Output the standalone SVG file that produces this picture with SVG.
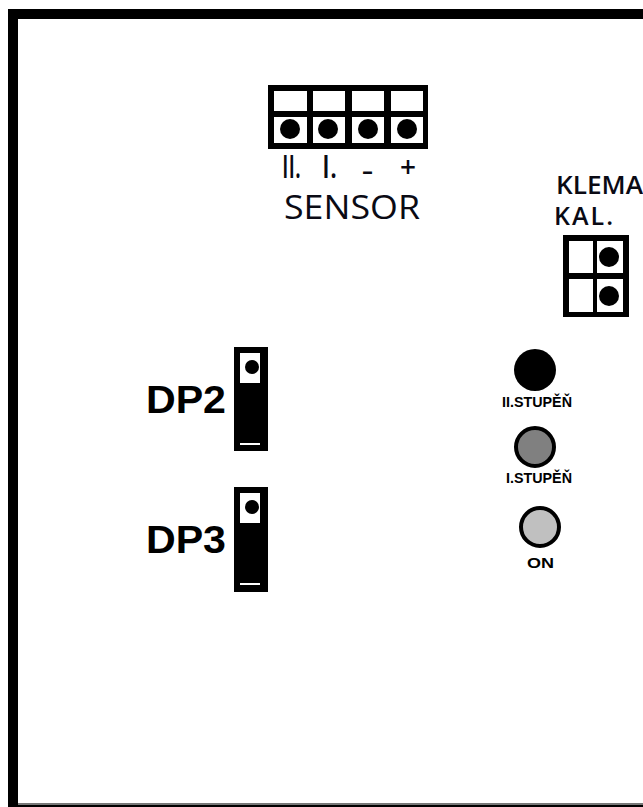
<svg xmlns="http://www.w3.org/2000/svg" width="643" height="807" viewBox="0 0 643 807">
<style>
.b{fill:#000}.w{fill:#fff}
.t{font-family:"Open Sans","Noto Sans",sans-serif;fill:#0a0a14}
.h{font-family:"Liberation Sans",Arial,sans-serif;font-weight:700;fill:#000}
.led{stroke:#000;stroke-width:4}
</style>
<rect width="643" height="807" fill="#fff"/>
<path id="frame" d="M8 807V9H643V19H18V804.5H643V807Z" fill="#000"/>
<rect x="18" y="803" width="625" height="1.5" fill="#777"/>
<g id="sensor">
<rect class="b" x="268" y="85" width="160" height="64"/>
<rect class="w" x="274" y="91" width="33" height="20"/><rect class="w" x="313" y="91" width="32" height="20"/><rect class="w" x="352" y="91" width="32" height="20"/><rect class="w" x="391" y="91" width="32" height="20"/>
<rect class="w" x="274" y="117" width="33" height="26"/><rect class="w" x="313" y="117" width="32" height="26"/><rect class="w" x="352" y="117" width="32" height="26"/><rect class="w" x="391" y="117" width="32" height="26"/>
<circle class="b" cx="290" cy="129" r="10"/><circle class="b" cx="328" cy="129" r="10"/><circle class="b" cx="368" cy="129" r="10"/><circle class="b" cx="407" cy="129" r="10"/>
<text class="t" x="282" y="178" font-size="32" font-weight="600" textLength="19" lengthAdjust="spacingAndGlyphs">II.</text><text class="t" x="322" y="178" font-size="32" font-weight="600" textLength="15" lengthAdjust="spacingAndGlyphs">I.</text><text class="t" x="362" y="178" font-size="20" font-weight="700" textLength="11" lengthAdjust="spacingAndGlyphs">-</text><text class="t" x="400" y="177" font-size="28" font-weight="600">+</text>
<text class="t" x="284" y="219" font-size="33" font-weight="500" textLength="136" lengthAdjust="spacingAndGlyphs">SENSOR</text>
</g>
<g id="klema">
<text class="t" x="556" y="194" font-size="25" font-weight="600" textLength="87" lengthAdjust="spacingAndGlyphs">KLEMA</text>
<text class="t" x="554" y="225" font-size="25" font-weight="600" textLength="59" lengthAdjust="spacing">KAL.</text>
<rect class="b" x="563" y="235" width="66" height="82"/>
<rect class="w" x="569" y="241" width="24" height="32"/><rect class="w" x="597" y="241" width="26" height="32"/><rect class="w" x="569" y="279" width="24" height="33"/><rect class="w" x="597" y="279" width="26" height="33"/>
<circle class="b" cx="609" cy="257" r="10"/><circle class="b" cx="609" cy="296" r="10"/>
</g>
<g id="dp2">
<text class="h" x="146" y="413" font-size="39" textLength="80" lengthAdjust="spacingAndGlyphs">DP2</text>
<rect class="b" x="234" y="347" width="34" height="104"/><rect class="w" x="240" y="353" width="20" height="30"/><circle class="b" cx="252" cy="367" r="7"/><rect class="w" x="240" y="443" width="20" height="2"/>
</g>
<g id="dp3">
<text class="h" x="146" y="553" font-size="39" textLength="80" lengthAdjust="spacingAndGlyphs">DP3</text>
<rect class="b" x="234" y="487" width="34" height="105"/><rect class="w" x="240" y="493" width="20" height="30"/><circle class="b" cx="252" cy="507" r="7"/><rect class="w" x="240" y="583" width="20" height="2"/>
</g>
<g id="led-2">
<circle class="b" cx="535" cy="370" r="21"/>
<text class="h" x="502" y="407" font-size="14" textLength="70" lengthAdjust="spacingAndGlyphs">II.STUPĚŇ</text>
</g>
<g id="led-1">
<circle class="led" cx="535" cy="447" r="19" fill="#808080"/>
<text class="h" x="506" y="483" font-size="14" textLength="66" lengthAdjust="spacingAndGlyphs">I.STUPĚŇ</text>
</g>
<g id="led-on">
<circle class="led" cx="540" cy="527" r="19" fill="#c0c0c0"/>
<text class="h" x="527" y="568" font-size="14" textLength="27" lengthAdjust="spacingAndGlyphs">ON</text>
</g>
</svg>
